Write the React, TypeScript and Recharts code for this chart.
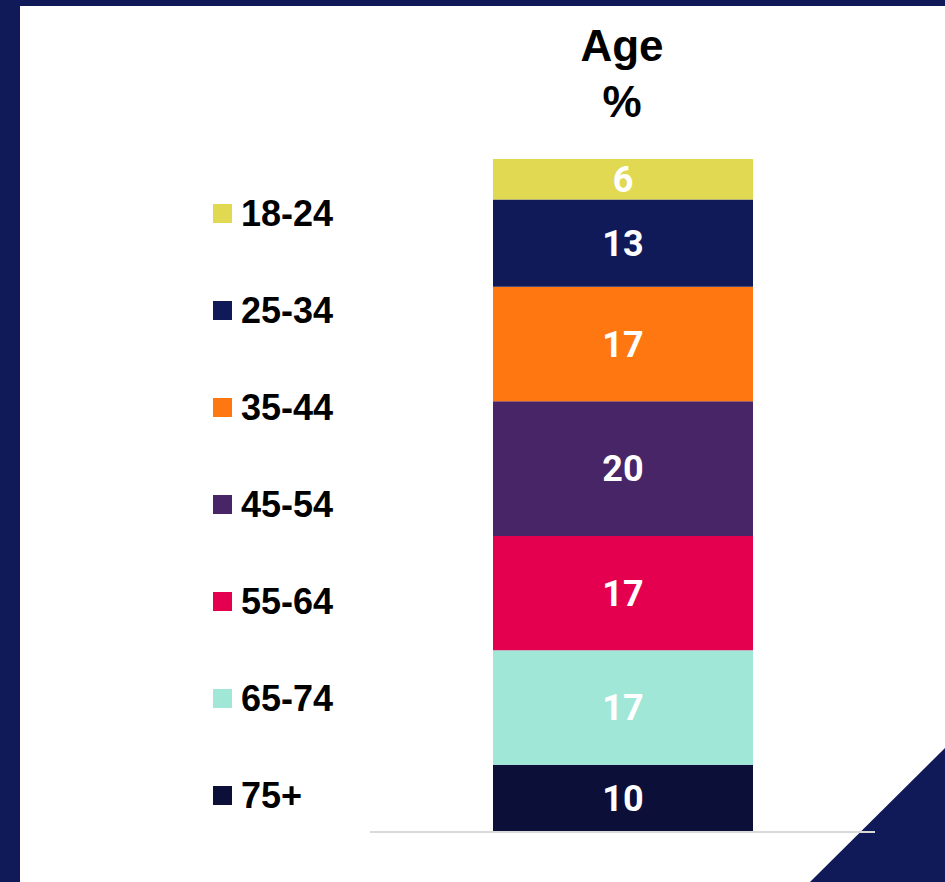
import React from "react"
import { Bar, BarChart, XAxis, YAxis, Legend, LabelList } from "recharts"

// age groups, listed top of the stack first
const ageGroups = ["18-24", "25-34", "35-44", "45-54", "55-64", "65-74", "75+"]
const agePercent = [6, 13, 17, 20, 17, 17, 10]
const groupColors = ["#E2D952", "#111A58", "#FF7711", "#472567", "#E5004F", "#A0E7D8", "#0C1038"]

const category = "Age"

const chartData = [
  ageGroups.reduce((row: any, g, i) => {
    row[g] = agePercent[i]
    return row
  }, { name: category }),
]

function AgeLegend() {
  return (
    <div>
      {ageGroups.map((g, i) => (
        <div key={g} style={{ height: 97, display: "flex", alignItems: "center" }}>
          <span style={{ width: 19, height: 19, background: groupColors[i], marginRight: 9, display: "inline-block" }} />
          <span style={{ fontFamily: "'Liberation Sans', Arial, sans-serif", fontWeight: 700, fontSize: 36, color: "#000" }}>{g}</span>
        </div>
      ))}
    </div>
  )
}

export default function App() {
  // stack bottom-up: last group first
  const stackOrder = ageGroups.map((g, i) => i).reverse()

  return (
    <div style={{ position: "absolute", left: 0, top: 0, width: 945, height: 882, background: "#111A58", overflow: "hidden" }}>
      <svg width={945} height={882} style={{ position: "absolute", left: 0, top: 0 }}>
        <rect x={20} y={6} width={925} height={876} fill="#ffffff" />
        <polygon points="945,748 810,882 945,882" fill="#111A58" />
        <text x={622} y={61} textAnchor="middle" fontFamily="'Liberation Sans', Arial, sans-serif" fontWeight={700} fontSize={44} fill="#000">Age</text>
        <text x={622} y={117} textAnchor="middle" fontFamily="'Liberation Sans', Arial, sans-serif" fontWeight={700} fontSize={44} fill="#000">%</text>
      </svg>
      <div style={{ position: "absolute", left: 0, top: 0 }}>
        <BarChart width={945} height={882} data={chartData} margin={{ top: 159, right: 70, bottom: 49, left: 370 }}>
          <XAxis dataKey="name" tick={false} tickLine={false} height={1} axisLine={{ stroke: "#d9d9d9", strokeWidth: 2 }} />
          <YAxis hide domain={[0, 100]} />
          <Legend
            layout="horizontal"
            verticalAlign="middle"
            align="center"
            content={() => <AgeLegend />}
            wrapperStyle={{ left: 213, top: 165, width: 200, height: 679 }}
          />
          {stackOrder.map((i) => (
            <Bar key={ageGroups[i]} dataKey={ageGroups[i]} stackId="age" fill={groupColors[i]} barSize={260} isAnimationActive={false}>
              <LabelList
                dataKey={ageGroups[i]}
                position="center"
                fill="#ffffff"
                style={{ fontFamily: "Roboto, sans-serif", fontWeight: 700, fontSize: 36 }}
              />
            </Bar>
          ))}
        </BarChart>
      </div>
    </div>
  )
}
